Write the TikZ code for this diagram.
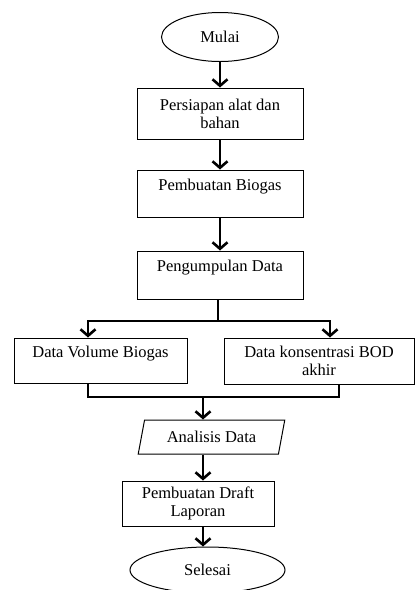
\documentclass[tikz,border=0pt]{standalone}
\usepackage{fontspec}
\setmainfont{Liberation Serif}
\usetikzlibrary{shapes.geometric,arrows.meta}

\begin{document}
\begin{tikzpicture}
  [x=1pt,y=-1pt,font=\fontsize{16.5}{18}\selectfont,
   box/.style={draw,rectangle,inner sep=0pt,align=center,line width=1pt},
   oval/.style={draw,ellipse,inner sep=0pt,line width=1pt},
   io/.style={draw,trapezium,trapezium left angle=70,trapezium right angle=110,
     trapezium stretches=true,inner sep=0pt,line width=1pt},
   arr/.style={line width=2.6pt,-{Straight Barb[length=6.5pt,width=15pt]}},
   line/.style={line width=2.6pt}]
  \useasboundingbox (0,0) rectangle (416,590);
  \node[oval,minimum width=117,minimum height=49] (mulai) at (220,37) {Mulai};
  \node[box,minimum width=166,minimum height=51] (persiapan) at (220,113.5) {Persiapan alat dan\\bahan};
  \node[box,minimum width=166,minimum height=47] (biogas) at (220,193.5) {Pembuatan Biogas\\\mbox{}};
  \node[box,minimum width=166,minimum height=48] (pengumpulan) at (220,275) {Pengumpulan Data\\\mbox{}};
  \node[box,minimum width=173,minimum height=45] (volume) at (100.5,360.5) {Data Volume Biogas\\\mbox{}};
  \node[box,minimum width=190,minimum height=46] (bod) at (319,361) {Data konsentrasi BOD\\akhir};
  \node[io,minimum width=147,minimum height=34] (analisis) at (211.5,437) {Analisis Data};
  \node[box,minimum width=152,minimum height=45] (draft) at (198,503.5) {Pembuatan Draft\\Laporan};
  \node[oval,minimum width=155,minimum height=46] (selesai) at (207.5,570) {Selesai};
  \coordinate (split) at (218,321);
  \coordinate (join) at (203,397);
  \foreach \from/\to in {mulai/persiapan,persiapan/biogas,biogas/pengumpulan}
    \draw[arr] (\from) -- (\to);
  \draw[line] (pengumpulan.south -| split) -- (split);
  \draw[arr] (split) -| ([xshift=-12.5]volume.north);
  \draw[arr] (split) -| ([xshift=11]bod.north);
  \draw[line] ([xshift=-12.5]volume.south) |- (join) -| ([xshift=20]bod.south);
  \draw[arr] (join) -- (analisis.north -| join);
  \foreach \from/\to in {analisis/draft,draft/selesai}
    \draw[arr] (\from.south -| join) -- (\to.north -| join);
\end{tikzpicture}
\end{document}
